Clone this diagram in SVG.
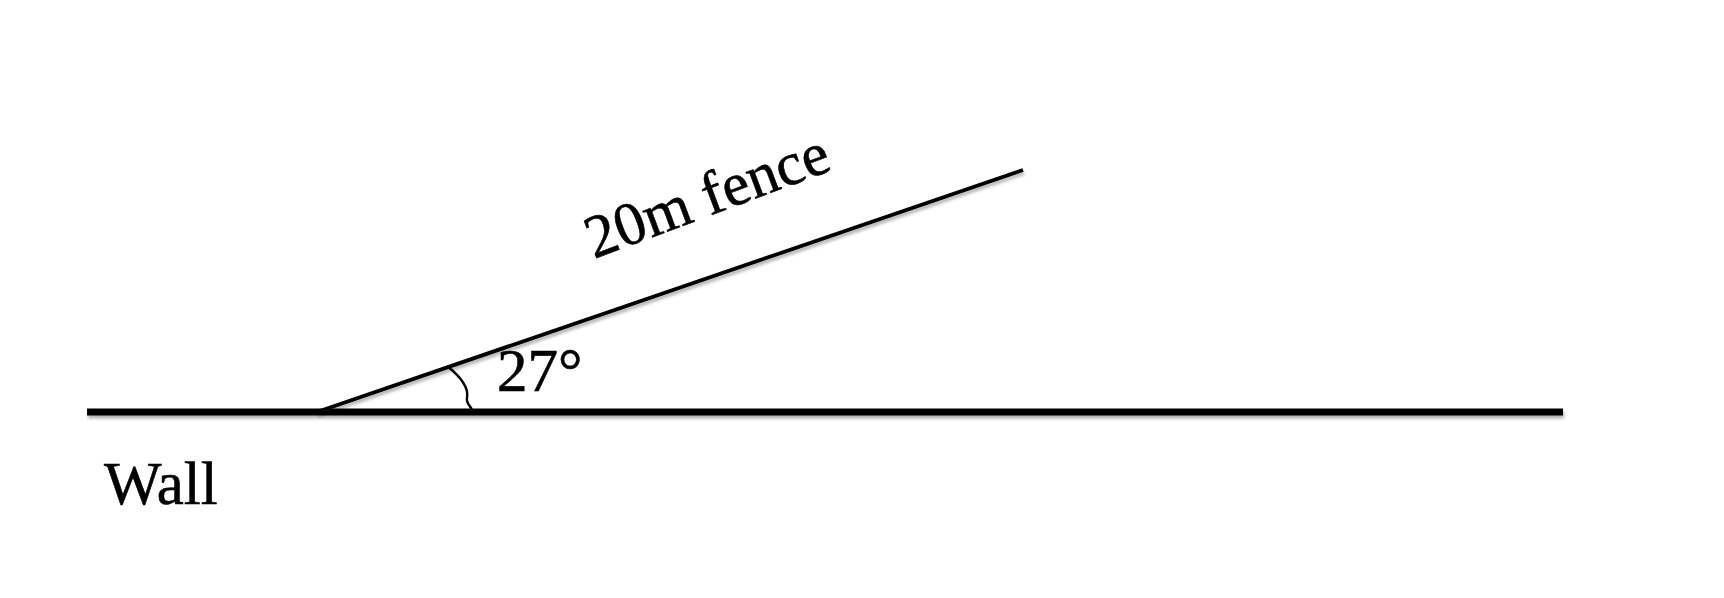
<svg xmlns="http://www.w3.org/2000/svg" width="1724" height="598" viewBox="0 0 1724 598">
  <style>
    .lbl { font-family: "Liberation Serif", "Times New Roman", serif; font-size: 61px; fill: #000; stroke: #000; stroke-width: 0.6px; }
    .ln { stroke: #000; fill: none; stroke-linecap: butt; }
  </style>
  <defs>
    <filter id="sh" filterUnits="userSpaceOnUse" x="0" y="0" width="1724" height="598">
      <feDropShadow dx="1" dy="3" stdDeviation="1.5" flood-color="#000" flood-opacity="0.3"/>
    </filter>
  </defs>
  <rect width="1724" height="598" fill="#fff"/>
  <g id="connectors">
    <line id="wall-line" class="ln" x1="87" y1="412" x2="1563" y2="412" stroke-width="7" filter="url(#sh)"/>
    <line id="fence-line" class="ln" x1="317" y1="412" x2="1023" y2="170" stroke-width="3.8" filter="url(#sh)"/>
    <path id="angle-arc" class="ln" d="M 447 366 C 461 377 469 388 467 398 C 466 404 471 406 472 410" stroke-width="2.4"/>
  </g>
  <g id="wall-label">
    <text class="lbl" x="104" y="504">Wall</text>
  </g>
  <g id="fence-label">
    <text class="lbl" x="594" y="259" transform="rotate(-20.5 594 259)">20m fence</text>
  </g>
  <g id="angle-label">
    <text class="lbl" x="497" y="391">27°</text>
  </g>
</svg>
